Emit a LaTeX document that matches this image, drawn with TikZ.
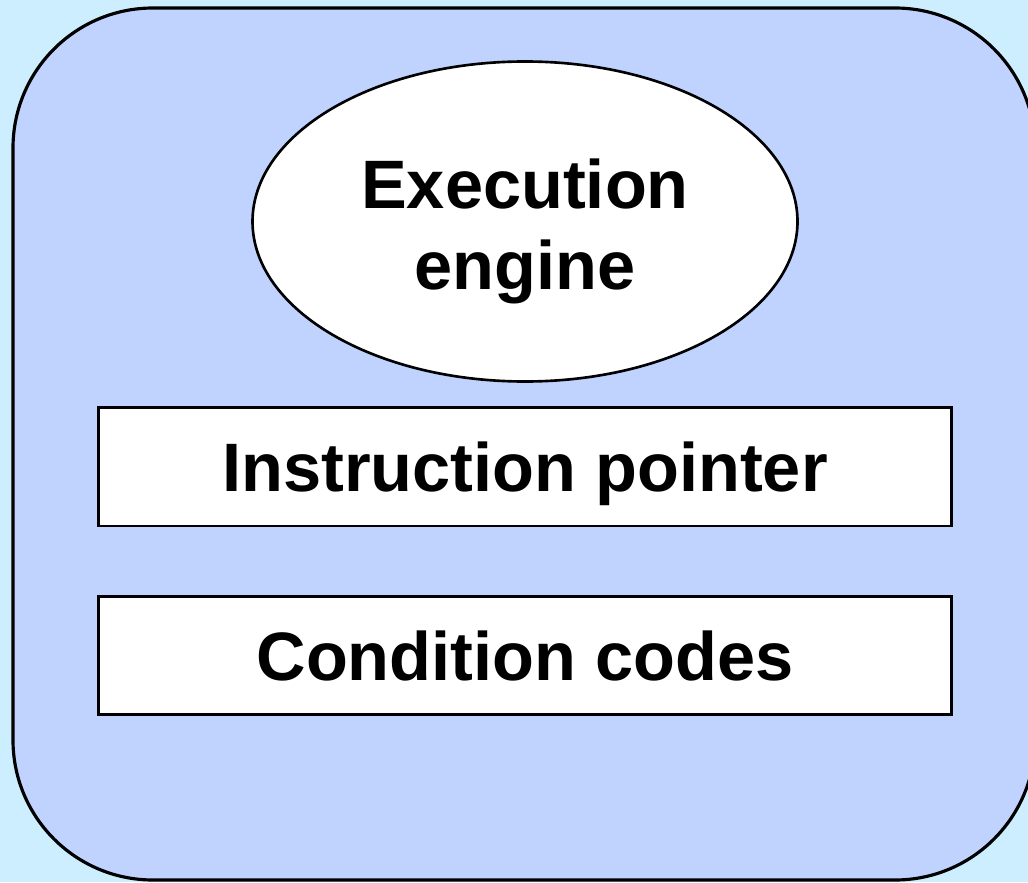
\documentclass[tikz,border=0pt]{standalone}
\usepackage{fontspec}
\setmainfont{Liberation Sans}
\usepackage{tikz}
\usetikzlibrary{positioning, shapes.geometric}

\definecolor{bgcyan}{RGB}{204,238,255}
\definecolor{cpublue}{RGB}{192,211,255}

\begin{document}
\begin{tikzpicture}
	% Define styles
	\tikzset{
		panel/.style={rectangle, draw, line width=1.8pt, fill=cpublue, rounded corners=2.8cm, minimum width=20.44cm, minimum height=17.44cm},
		unit/.style={ellipse, draw, line width=1.5pt, fill=white, minimum width=10.9cm, minimum height=6.4cm, inner sep=0pt, align=center, font=\fontsize{39}{46}\selectfont\bfseries},
		reg/.style={rectangle, draw, line width=1.5pt, fill=white, minimum width=17.05cm, minimum height=2.37cm, text depth=0pt, font=\fontsize{39}{46}\selectfont\bfseries}
	}
	
	% Background
	\fill[bgcyan] (0,0) rectangle (20.56,-17.64);
	\useasboundingbox (0,0) rectangle (20.56,-17.64);
	
	% Nodes
	\node[panel] (cpu) at (10.48,-8.88) {};
	\node[unit] (engine) at (10.5,-4.43) {\rule{0pt}{1.4cm}Execution\\engine};
	\node[reg, below=0.47cm of engine] (ip) {Instruction pointer};
	\node[reg, below=1.35cm of ip] (cc) {Condition codes};
	
\end{tikzpicture}
\end{document}
